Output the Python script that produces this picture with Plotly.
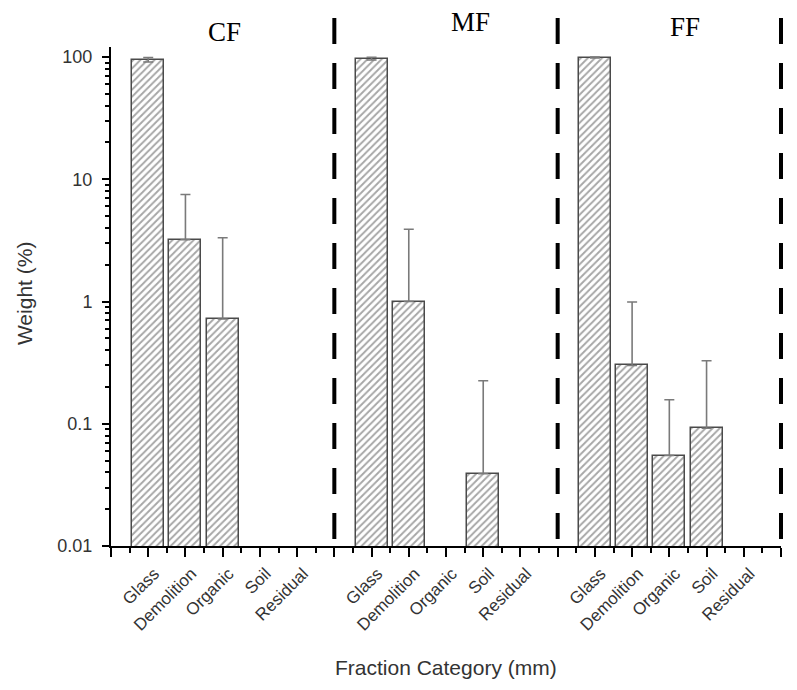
import plotly.graph_objects as go

categories = ["Glass", "Demolition", "Organic", "Soil", "Residual"]
groups = ["CF", "MF", "FF"]

cf_values = [95, 3.2, 0.72, None, None]
cf_err_plus = [4, 4.3, 2.6, 0, 0]
cf_err_minus = [4, 0, 0, 0, 0]

mf_values = [97, 1.0, None, 0.039, None]
mf_err_plus = [2.5, 2.9, 0, 0.186, 0]
mf_err_minus = [2.5, 0, 0, 0, 0]

ff_values = [99, 0.3, 0.055, 0.092, None]
ff_err_plus = [0.8, 0.69, 0.102, 0.236, 0]
ff_err_minus = [0.8, 0, 0, 0, 0]

y_tick_vals = [0.01, 0.1, 1, 10, 100]
y_tick_text = ["0.01", "0.1", "1", "10", "100"]

group_values = [cf_values, mf_values, ff_values]
group_plus = [cf_err_plus, mf_err_plus, ff_err_plus]
group_minus = [cf_err_minus, mf_err_minus, ff_err_minus]

n_cat = len(categories)
slot = n_cat + 1

fig = go.Figure()
for g, name in enumerate(groups):
    xs = [g * slot + 1 + i for i in range(n_cat)]
    fig.add_trace(go.Bar(
        x=xs, y=group_values[g], width=0.86, name=name, showlegend=False,
        marker=dict(color="white",
                    line=dict(color="#4a4a4a", width=1.5),
                    pattern=dict(shape="/", fgcolor="#4d4d4d", bgcolor="white",
                                 size=5, solidity=0.38)),
        error_y=dict(type="data", symmetric=False, array=group_plus[g],
                     arrayminus=group_minus[g], color="#7a7a7a",
                     thickness=1.6, width=5),
    ))

x_end = slot * len(groups)
tickvals = list(range(0, x_end + 1))
ticktext = []
for v in tickvals:
    r = v % slot
    ticktext.append(categories[r - 1] if r != 0 else "")

for g in range(1, len(groups) + 1):
    xp = g * slot / x_end
    fig.add_shape(type="line", xref="paper", yref="paper",
                  x0=xp, x1=xp, y0=1.058, y1=-0.002,
                  line=dict(color="black", width=4, dash="26px,19px"))

title_x = [3.04, 9.65, 15.43]
title_y = [1.03, 1.05, 1.04]
for g, name in enumerate(groups):
    fig.add_annotation(x=title_x[g], y=title_y[g], xref="x", yref="paper",
                       text=name, showarrow=False, yanchor="middle",
                       font=dict(family="Liberation Serif", size=27, color="black"))

fig.add_annotation(x=0.5, y=-0.2425, xref="paper", yref="paper",
                   text="Fraction Category (mm)", showarrow=False,
                   xanchor="center", yanchor="middle",
                   font=dict(size=21, color="#333333"))
fig.add_annotation(x=-0.129, y=0.506, xref="paper", yref="paper",
                   text="Weight (%)", showarrow=False, textangle=-90,
                   xanchor="center", yanchor="middle",
                   font=dict(size=21, color="#333333"))

fig.update_layout(
    width=797, height=690,
    margin=dict(l=103, r=24, t=39, b=152, autoexpand=False),
    paper_bgcolor="white", plot_bgcolor="white",
    bargap=0,
    font=dict(family="Liberation Sans", color="#333333"),
    xaxis=dict(range=[0, x_end], tickmode="array", tickvals=tickvals,
               ticktext=ticktext, tickangle=-45, showgrid=False, zeroline=False,
               showline=True, linecolor="black", linewidth=2, automargin=False,
               ticks="outside", ticklen=9, tickwidth=2, tickcolor="black",
               ticklabelstandoff=0, ticklabelshift=6,
               tickfont=dict(size=17, color="#333333"),
               minor=dict(tickmode="array",
                          tickvals=[v + 0.5 for v in range(0, x_end)],
                          ticks="outside", ticklen=5, tickwidth=1.5,
                          tickcolor="black", showgrid=False)),
    yaxis=dict(type="log", range=[-2, 2.082], tickmode="array",
               tickvals=y_tick_vals, ticktext=y_tick_text, showgrid=False,
               zeroline=False, showline=True, linecolor="black", linewidth=2,
               automargin=False,
               ticks="outside", ticklen=7, tickwidth=2, tickcolor="black",
               ticklabelstandoff=6,
               tickfont=dict(size=18, color="#333333"),
               minor=dict(tickmode="array",
                          tickvals=[m * 10 ** e for e in range(-2, 2) for m in range(2, 10)],
                          ticks="outside", ticklen=4, tickwidth=1.5,
                          tickcolor="black", showgrid=False)),
)

fig.write_html("out.html")
